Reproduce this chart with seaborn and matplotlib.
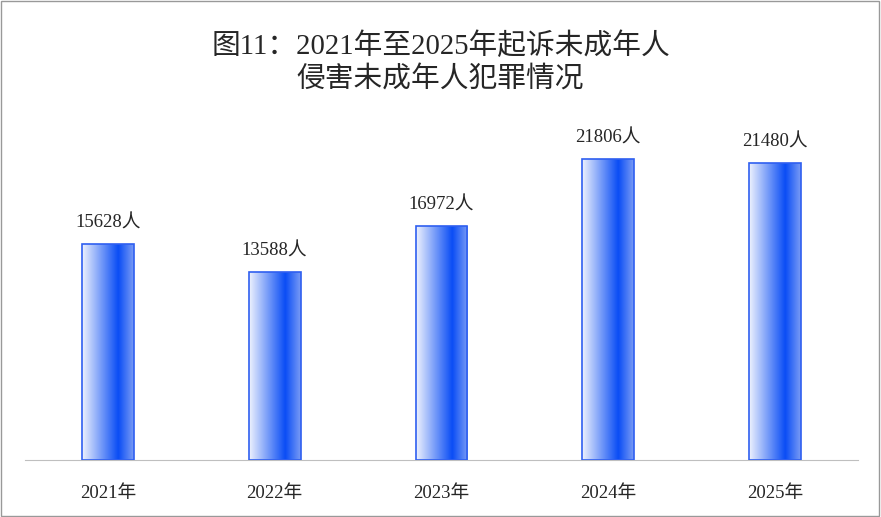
import numpy as np
import pandas as pd
import matplotlib.pyplot as plt
import seaborn as sns
from matplotlib.colors import LinearSegmentedColormap

years = ["2021年", "2022年", "2023年", "2024年", "2025年"]
counts = [15628, 13588, 16972, 21806, 21480]
labels = [f"{v}人" for v in counts]

sns.set_style("white")
plt.rcParams['font.family'] = ['Liberation Serif', 'Noto Sans CJK SC']

df = pd.DataFrame({"year": years, "count": counts})

fig = plt.figure(figsize=(8.81, 5.17), dpi=100)
ax = fig.add_axes([0.028, 0.110, 0.946, 0.677])
sns.barplot(data=df, x="year", y="count", ax=ax, width=0.31,
            color="white", edgecolor="#2f5ff0", linewidth=1.2, zorder=2)

# horizontal gradient fill: light left, dark blue ~70%, lighter right
cmap = LinearSegmentedColormap.from_list(
    "g", [(0, "#eef2fd"), (0.7, "#0a4df5"), (1.0, "#7a9cf5")])
grad = np.linspace(0, 1, 256).reshape(1, -1)
for p in ax.patches:
    x0, y0 = p.get_x(), p.get_y()
    w, h = p.get_width(), p.get_height()
    im = ax.imshow(grad, cmap=cmap, aspect="auto",
                   extent=[x0, x0 + w, y0, y0 + h], zorder=1)
    im.set_clip_path(p)
    p.set_facecolor("none")
    p.set_zorder(3)

for i, (v, t) in enumerate(zip(counts, labels)):
    ax.text(i, v + 900, t, ha="center", va="bottom", fontsize=13.5)

ax.set_xlim(-0.5, 4.5)
ax.set_ylim(0, 25325)
ax.set_yticks([])
ax.set_xlabel("")
ax.set_ylabel("")
for s in ["top", "left", "right"]:
    ax.spines[s].set_visible(False)
ax.spines["bottom"].set_color("#bfbfbf")
ax.tick_params(axis="x", length=0, labelsize=13.5, pad=18)

fig.text(0.5, 0.878, "图11：2021年至2025年起诉未成年人\n侵害未成年人犯罪情况",
         ha="center", va="center", fontsize=20.7, linespacing=1.3)

fig.patches.append(plt.Rectangle((0.001, 0.002), 0.997, 0.996, transform=fig.transFigure,
                                 fill=False, edgecolor="#999999", linewidth=1))
fig.savefig("out.png", dpi=100)
